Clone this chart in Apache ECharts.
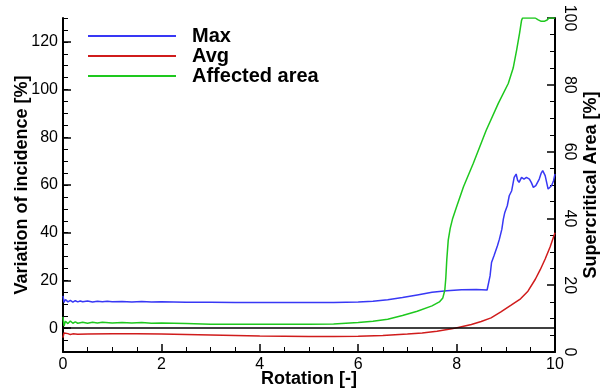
<!DOCTYPE html>
<html>
<head>
<meta charset="utf-8">
<script src="https://cdn.jsdelivr.net/npm/echarts@6/dist/echarts.min.js"></script>
<style>
  html, body { margin: 0; padding: 0; background: #fff; }
  #chart { width: 606px; height: 391px; }
</style>
</head>
<body>
<div id="chart"></div>
<script>
// Max variation of incidence [%] (left axis)
var maxT = [0, 0.02, 0.05, 0.1, 0.15, 0.2, 0.25, 0.3, 0.35, 0.4, 0.5, 0.6, 0.7, 0.8, 0.9, 1.0, 1.2, 1.4, 1.6, 1.8,
  2.0, 2.5, 3.0, 3.5, 4.0, 4.5, 5.0, 5.5, 6.0, 6.3, 6.6, 6.9, 7.2, 7.5, 7.8, 8.1, 8.4, 8.62, 8.65, 8.68,
  8.71, 8.76, 8.80, 8.83, 8.87, 8.92, 8.95, 8.98, 9.03, 9.07, 9.12, 9.17, 9.21, 9.24, 9.27, 9.32, 9.37, 9.42, 9.48, 9.52,
  9.56, 9.61, 9.68, 9.72, 9.75, 9.80, 9.86, 9.90, 9.93, 9.97, 10.0];
var maxV = [13.5, 10.8, 12.0, 11.0, 11.6, 10.9, 11.5, 11.0, 11.4, 11.1, 11.4, 11.0, 11.3, 11.1, 11.3, 11.1, 11.2, 11.0, 11.2, 11.0,
  11.1, 10.9, 10.9, 10.8, 10.8, 10.7, 10.7, 10.8, 11.0, 11.3, 11.9, 12.8, 13.9, 15.0, 15.7, 16.1, 16.2, 16.0, 15.6, 21.9,
  27.5, 30.3, 29.6, 34.5, 37.3, 41.5, 45.7, 48.5, 51.3, 55.5, 57.6, 63.2, 64.6, 62.0, 61.1, 63.2, 62.5, 63.2, 62.5, 61.0,
  59.0, 59.7, 62.5, 65.0, 66.0, 63.9, 58.3, 59.0, 59.7, 61.8, 64.6];

// Avg variation of incidence [%] (left axis)
var avgT = [0, 0.02, 0.05, 0.1, 0.15, 0.2, 0.3, 0.5, 1.0, 1.5, 2.0, 2.5, 3.0, 3.5, 4.0, 4.5, 5.0, 5.5, 6.0, 6.5,
  7.0, 7.3, 7.6, 7.9, 8.1, 8.3, 8.5, 8.7, 8.9, 9.1, 9.3, 9.45, 9.6, 9.7, 9.8, 9.9, 10.0];
var avgV = [-4.0, -2.0, -2.8, -2.3, -2.7, -2.4, -2.6, -2.5, -2.4, -2.4, -2.5, -2.7, -2.9, -3.1, -3.3, -3.4, -3.5, -3.5, -3.4, -3.1,
  -2.5, -2.0, -1.3, -0.3, 0.6, 1.5, 2.8, 4.3, 6.8, 9.5, 12.3, 15.5, 20.5, 24.5, 29.0, 34.0, 40.0];

// Affected (supercritical) area [%] (right axis)
var areaT = [0, 0.02, 0.05, 0.1, 0.15, 0.2, 0.25, 0.3, 0.4, 0.5, 0.6, 0.7, 0.8, 1.0, 1.2, 1.4, 1.6, 1.8, 2.0, 2.5,
  3.0, 4.0, 5.0, 5.5, 6.0, 6.3, 6.6, 6.9, 7.2, 7.5, 7.65, 7.72, 7.76, 7.78, 7.80, 7.83, 7.87, 7.92, 8.0, 8.14,
  8.34, 8.6, 8.85, 9.05, 9.15, 9.22, 9.28, 9.32, 9.34, 9.5, 9.6, 9.65, 9.72, 9.78, 9.84, 9.88, 10.0];
var areaV = [10.5, 7.8, 9.2, 8.5, 9.3, 8.6, 9.0, 8.6, 8.9, 8.6, 8.9, 8.7, 8.9, 8.7, 8.8, 8.7, 8.8, 8.6, 8.7, 8.5,
  8.3, 8.3, 8.3, 8.4, 8.8, 9.2, 9.8, 10.9, 12.2, 13.8, 15.0, 16.2, 18.5, 22.0, 27.5, 33.5, 37.0, 40.0, 43.5, 49.5,
  56.5, 66.3, 74.5, 80.4, 85.0, 90.4, 95.5, 99.3, 100, 100, 100, 99.5, 99.0, 99.0, 99.4, 100, 100];

var leftLabels = [0, 20, 40, 60, 80, 100, 120];

function pairs(t, v) {
  return t.map(function (x, i) { return [x, v[i]]; });
}

var font = '"Liberation Sans", Arial, Helvetica, sans-serif';
var black = '#000';
var blue = '#3838f5', red = '#d01c1c', green = '#1ec81e';

var chart = echarts.init(document.getElementById('chart'));

var option = {
  animation: false,
  textStyle: { fontFamily: font },
  grid: { left: 63, right: 51, top: 18, bottom: 39, containLabel: false, outerBoundsMode: 'none' },
  legend: {
    data: ['Max', 'Avg', 'Affected area'],
    orient: 'vertical',
    left: 88,
    top: 26,
    padding: 0,
    icon: 'rect',
    itemWidth: 88,
    itemHeight: 2,
    itemGap: 0,
    textStyle: { fontSize: 20, lineHeight: 20, fontWeight: 'bold', color: black, fontFamily: font, padding: [0, 0, 0, 11] }
  },
  xAxis: {
    type: 'value',
    min: 0, max: 10, interval: 2,
    name: 'Rotation [-]',
    nameLocation: 'middle',
    nameMoveOverlap: false,
    nameGap: 18,
    nameTextStyle: { fontSize: 18, fontWeight: 'bold', color: black, fontFamily: font },
    axisLine: { onZero: false, lineStyle: { color: black, width: 2 } },
    axisTick: { inside: true, length: 8, lineStyle: { color: black, width: 1.5 } },
    minorTick: { show: true, splitNumber: 4, length: 5, lineStyle: { color: black, width: 1 } },
    axisLabel: { color: black, fontSize: 16, margin: 5, fontFamily: font },
    splitLine: { show: false }
  },
  yAxis: [
    {
      type: 'value',
      position: 'left',
      min: -10, max: 130, interval: 10,
      name: 'Variation of incidence [%]',
      nameLocation: 'middle',
      nameMoveOverlap: false,
      nameGap: 32,
      nameTextStyle: { fontSize: 18, fontWeight: 'bold', color: black, fontFamily: font },
      axisLine: { show: true, onZero: false, lineStyle: { color: black, width: 2 } },
      axisTick: { inside: true, length: 8, customValues: leftLabels, lineStyle: { color: black, width: 1.5 } },
      axisLabel: { color: black, fontSize: 16, margin: 5, customValues: leftLabels, fontFamily: font },
      splitLine: { show: false }
    },
    {
      type: 'value',
      position: 'right',
      min: 0, max: 100, interval: 20,
      name: 'Supercritical Area [%]',
      nameLocation: 'middle',
      nameMoveOverlap: false,
      nameRotate: 90,
      nameGap: 27,
      nameTextStyle: { fontSize: 18, fontWeight: 'bold', color: black, fontFamily: font },
      axisLine: { show: true, onZero: false, lineStyle: { color: black, width: 2 } },
      axisTick: { inside: true, length: 8, lineStyle: { color: black, width: 1.5 } },
      minorTick: { show: true, splitNumber: 4, length: 5, lineStyle: { color: black, width: 1 } },
      axisLabel: { color: black, fontSize: 16, margin: 6, rotate: -90, fontFamily: font },
      splitLine: { show: false }
    },
    {
      // minor ticks of the left axis, every 5
      type: 'value',
      position: 'left',
      min: -10, max: 130, interval: 5,
      axisLine: { show: false },
      axisTick: { show: true, inside: true, length: 5, lineStyle: { color: black, width: 1 } },
      axisLabel: { show: false },
      splitLine: { show: false }
    }
  ],
  series: [
    {
      name: 'Max', type: 'line', yAxisIndex: 0,
      symbol: 'none', showSymbol: false,
      lineStyle: { color: blue, width: 1.5 },
      itemStyle: { color: blue },
      data: pairs(maxT, maxV)
    },
    {
      name: 'Avg', type: 'line', yAxisIndex: 0,
      symbol: 'none', showSymbol: false,
      lineStyle: { color: red, width: 1.5 },
      itemStyle: { color: red },
      data: pairs(avgT, avgV),
      markLine: {
        silent: true,
        symbol: ['none', 'none'],
        label: { show: false },
        lineStyle: { color: black, width: 1.5, type: 'solid' },
        data: [{ yAxis: 0 }]
      }
    },
    {
      name: 'Affected area', type: 'line', yAxisIndex: 1,
      symbol: 'none', showSymbol: false,
      lineStyle: { color: green, width: 1.5 },
      itemStyle: { color: green },
      data: pairs(areaT, areaV)
    }
  ]
};

chart.setOption(option);
</script>
</body>
</html>
